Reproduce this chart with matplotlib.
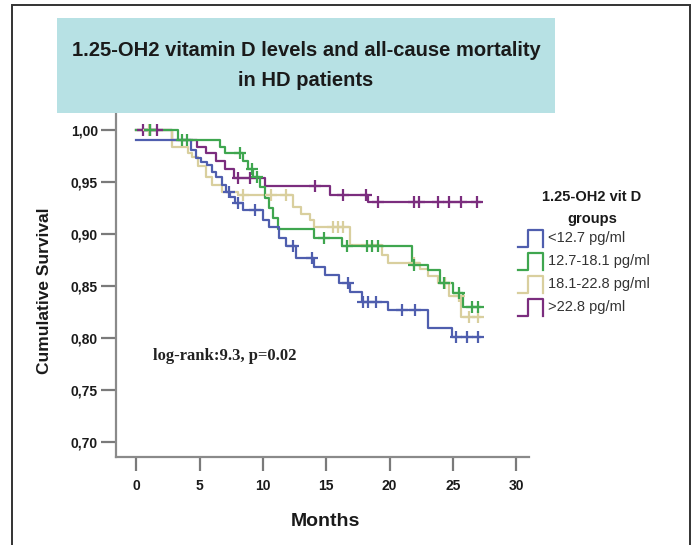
import numpy as np
import matplotlib
matplotlib.use("Agg")
import matplotlib.pyplot as plt
from matplotlib.patches import Rectangle
from matplotlib.lines import Line2D

plt.rcParams['font.family'] = ['Liberation Sans', 'DejaVu Sans']

# ---------------- data ----------------
groups = ["<12.7 pg/ml", "12.7-18.1 pg/ml", "18.1-22.8 pg/ml", ">22.8 pg/ml"]
colors = ["#4f5eae", "#3fa64f", "#d9cf9e", "#7b2d7e"]
end_time = 27.1

blue_t = [0, 4.3, 4.7, 5.1, 5.6, 6.0, 6.3, 6.8, 7.1, 7.4, 7.8, 8.4, 10.0, 10.5, 11.3, 11.8, 12.6, 14.0, 14.9, 16.0, 16.9, 17.8, 19.9, 23.0, 24.9]
blue_s = [0.990, 0.981, 0.973, 0.969, 0.966, 0.960, 0.955, 0.947, 0.940, 0.936, 0.930, 0.923, 0.913, 0.907, 0.896, 0.888, 0.877, 0.868, 0.861, 0.853, 0.844, 0.835, 0.827, 0.810, 0.801]
blue_c = [7.3, 8.0, 9.4, 12.4, 13.9, 16.7, 17.9, 18.3, 18.9, 21.0, 22.0, 25.2, 26.1, 27.0]

green_t = [0, 3.3, 6.6, 7.0, 8.4, 8.8, 9.2, 9.8, 10.2, 10.5, 10.8, 11.2, 14.0, 16.2, 21.8, 23.0, 24.0, 25.0, 25.8]
green_s = [1.000, 0.990, 0.984, 0.978, 0.970, 0.962, 0.955, 0.945, 0.935, 0.925, 0.915, 0.905, 0.896, 0.888, 0.870, 0.865, 0.853, 0.843, 0.830]
green_c = [1.1, 3.6, 4.0, 8.2, 9.1, 9.5, 14.8, 16.6, 18.2, 18.6, 19.1, 21.9, 24.3, 25.5, 26.5, 27.0]

beige_t = [0, 2.8, 4.1, 4.4, 4.9, 5.5, 6.0, 6.8, 8.0, 12.4, 13.0, 13.7, 14.0, 16.9, 19.4, 19.9, 22.4, 23.0, 23.8, 24.7, 25.6]
beige_s = [1.000, 0.984, 0.978, 0.974, 0.965, 0.955, 0.947, 0.940, 0.9375, 0.926, 0.919, 0.913, 0.907, 0.889, 0.880, 0.872, 0.866, 0.860, 0.853, 0.840, 0.820]
beige_c = [1.0, 8.4, 10.6, 11.8, 15.5, 15.9, 16.3, 21.9, 24.4, 25.5, 26.3, 27.0]

purple_t = [0, 2.8, 4.8, 5.5, 6.3, 7.0, 7.7, 10.2, 15.3, 18.3]
purple_s = [1.000, 0.990, 0.984, 0.978, 0.970, 0.962, 0.954, 0.946, 0.9375, 0.931]
purple_c = [0.5, 1.1, 1.6, 8.0, 9.0, 14.1, 16.3, 18.1, 19.1, 21.9, 22.3, 23.8, 24.7, 25.6, 26.9]

series = [(blue_t, blue_s, blue_c), (green_t, green_s, green_c),
          (beige_t, beige_s, beige_c), (purple_t, purple_s, purple_c)]

x_ticks = [0, 5, 10, 15, 20, 25, 30]
y_ticks = [0.70, 0.75, 0.80, 0.85, 0.90, 0.95, 1.00]

# ---------------- figure ----------------
W, H = 696, 545
fig = plt.figure(figsize=(W / 100, H / 100), dpi=100)

def fx(px):
    return px / W

def fy(py):
    return 1 - py / H

ax = fig.add_axes([fx(116), fy(457), fx(529) - fx(116), fy(113) - fy(457)])
ax.set_xlim(-1.6, 31)
ax.set_ylim(0.6856, 1.0163)

draw_order = [3, 2, 1, 0]
for i in draw_order:
    t, s, c = series[i]
    tt = list(t) + [end_time]
    ss = list(s) + [s[-1]]
    ax.step(tt, ss, where='post', color=colors[i], lw=1.6, zorder=3)
    idx = np.searchsorted(np.array(t), np.array(c), side='right') - 1
    cy = np.array(s)[idx]
    ax.plot(c, cy, linestyle='none', marker='+', markersize=8, mew=1.6,
            color=colors[i], zorder=4)

for sp in ['top', 'right']:
    ax.spines[sp].set_visible(False)
for sp in ['left', 'bottom']:
    ax.spines[sp].set_color('#8a8a8a')
    ax.spines[sp].set_linewidth(1.6)

ax.set_xticks(x_ticks)
ax.set_yticks(y_ticks)
ax.set_yticklabels([f"{v:.2f}".replace('.', ',') for v in y_ticks])
ax.tick_params(axis='both', direction='out', color='#7a7a7a', width=1.6,
               labelsize=10, labelcolor='#1a1a1a')
ax.tick_params(axis='y', length=11, pad=2)
ax.tick_params(axis='x', length=10, pad=6)
for lab in ax.get_xticklabels() + ax.get_yticklabels():
    lab.set_fontweight('bold')

fig.text(fx(325), fy(522), "Months", ha='center', va='center',
         fontsize=14, fontweight='bold', color='#1a1a1a')
fig.text(fx(45), fy(291), "Cumulative Survival", ha='center', va='center',
         rotation=90, fontsize=12.5, fontweight='bold', color='#1a1a1a')

ax.text(0.09, 0.293, "log-rank:9.3, p=0.02", transform=ax.transAxes,
        fontsize=12, fontweight='bold', family=['Liberation Serif', 'DejaVu Serif'],
        color='#222222', ha='left', va='center')

# title box
tax = fig.add_axes([fx(57), fy(113), fx(555) - fx(57), fy(18) - fy(113)])
tax.set_xlim(0, 1)
tax.set_ylim(0, 1)
tax.axis('off')
tax.add_patch(Rectangle((0, 0), 1, 1, facecolor='#b7e1e4', edgecolor='none'))
tax.text(0.5, 0.66, "1.25-OH2 vitamin D levels and all-cause mortality",
         ha='center', va='center', fontsize=14.5, fontweight='bold', color='#1a1a1a')
tax.text(0.5, 0.34, "in HD patients", ha='center', va='center',
         fontsize=14.5, fontweight='bold', color='#1a1a1a')

# legend (manual, step icons)
fig.text(fx(592), fy(197), "1.25-OH2 vit D", ha='center', va='center',
         fontsize=10.5, fontweight='bold', color='#1a1a1a')
fig.text(fx(592), fy(219), "groups", ha='center', va='center',
         fontsize=10.5, fontweight='bold', color='#1a1a1a')
leg_y = [238, 261, 284, 307]
for i, g in enumerate(groups):
    yc = leg_y[i]
    xs = [fx(518), fx(528), fx(528), fx(543), fx(543)]
    ys = [fy(yc + 9), fy(yc + 9), fy(yc - 8), fy(yc - 8), fy(yc + 9)]
    fig.add_artist(Line2D(xs, ys, color=colors[i], lw=1.6))
    fig.text(fx(548), fy(yc), g, ha='left', va='center', fontsize=10.5,
             color='#333333')

# outer frame
fig.add_artist(Rectangle((fx(12), -0.05), fx(690) - fx(12), fy(5) + 0.05,
                         facecolor='none', edgecolor='#333333', lw=1.4,
                         transform=fig.transFigure))

fig.savefig("out.png", dpi=100)
